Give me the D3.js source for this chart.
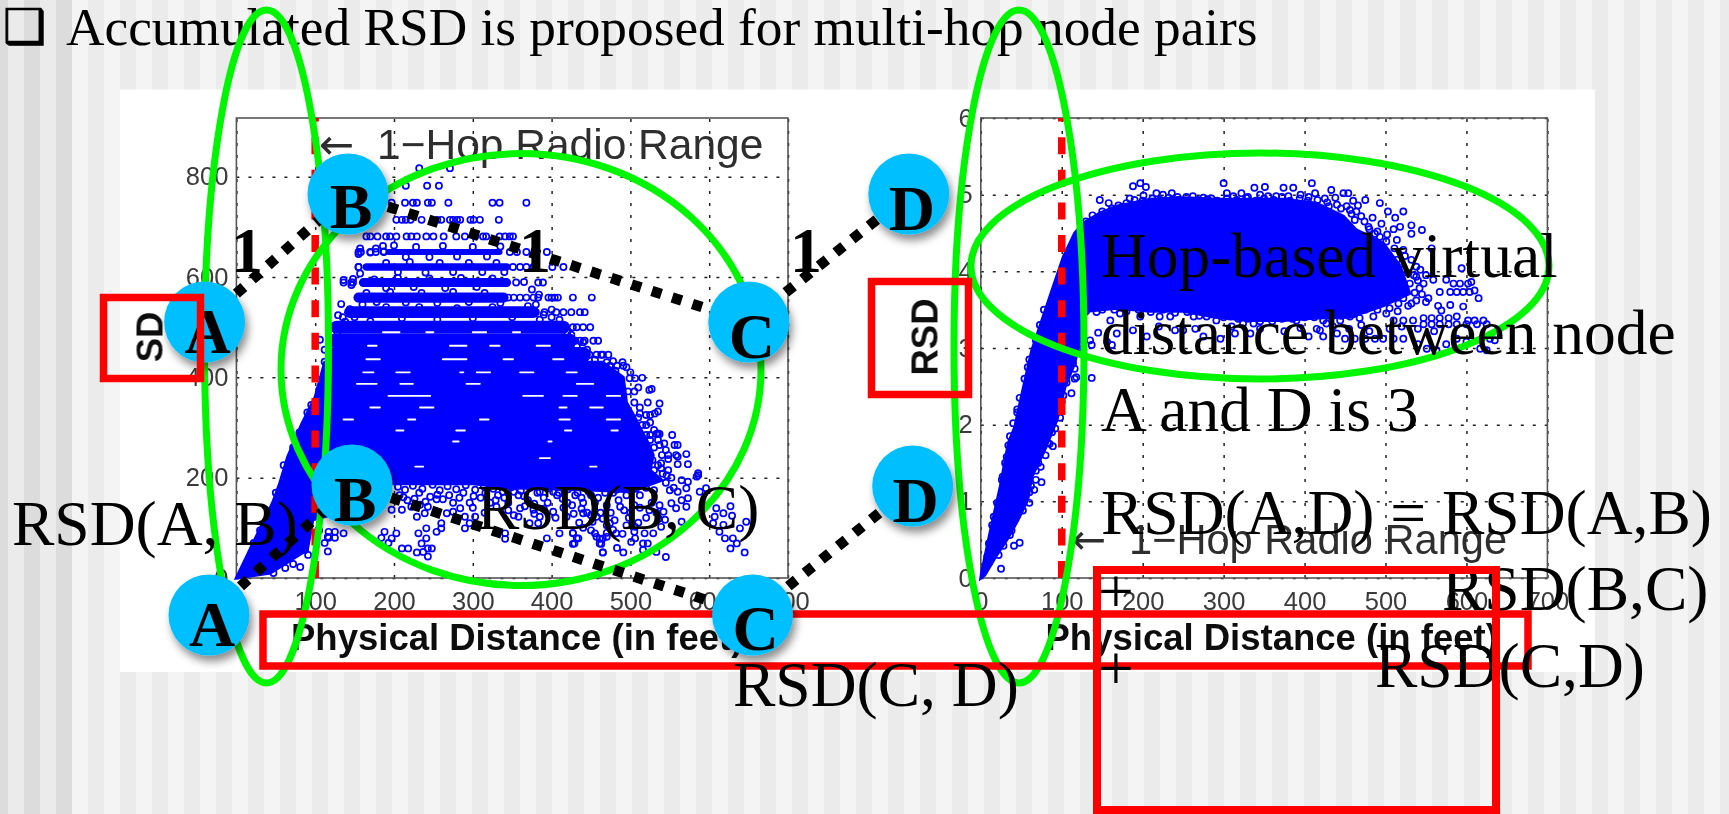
<!DOCTYPE html>
<html><head><meta charset="utf-8">
<style>html,body{margin:0;padding:0;background:#fff;overflow:hidden}svg{display:block}</style>
<script src="https://cdn.jsdelivr.net/npm/d3@7/dist/d3.min.js"></script></head>
<body><svg id="c" width="1729" height="814"></svg>
<script>
// ---------- chart values ----------
const leftXTicks=[0,100,200,300,400,500,600,700];
const leftYTicks=[0,200,400,600,800];
const rightXTicks=[0,100,200,300,400,500,600,700];
const rightYTicks=[0,1,2,3,4,5,6];
const radioRangeFeet=100;
// left plot: dense body of the SD cloud [feet, SD]
const leftBody=[[0,0],[17,56],[46,150],[55,189],[65,241],[83,307],[100,361],[112,430],[465,430],[491,400],[495,350],[503,328],[512,300],[524,265],[529,245],[525,215],[540,195],[500,172],[440,176],[345,180],[300,188],[190,188],[130,130],[97,116],[90,56],[43,10]];
// left plot: discrete SD rows
const rowSD=[650,620,589,559,530,500,473,445];
const rowFrom=[193,165,161,155,144,127,125,125];
const rowTo=[334,343,343,339,377,415,423,440];
// left plot: empty gaps inside the cloud [SD, from feet, to feet]
const leftGaps=[[490,186,207],[490,241,250],[490,300,317],[490,351,360],[463,167,178],[463,271,292],[463,322,334],[463,381,398],[436,262,292],[436,165,182],[436,339,351],[436,402,415],[410,161,174],[410,203,220],[410,284,288],[410,305,322],[410,360,377],[410,419,432],[387,432,453],[387,208,224],[387,292,309],[387,153,178],[363,193,246],[363,364,389],[363,415,432],[363,470,487],[340,233,250],[340,449,465],[340,410,419],[340,170,182],[316,136,148],[316,218,227],[316,309,320],[316,410,423],[316,470,487],[294,203,212],[294,417,425],[294,476,484],[294,279,290],[272,275,282],[272,396,400],[239,385,398],[222,227,237],[222,449,457]];
// left plot: individually readable points [feet, SD]
const leftPoints=[[232,817],[271,817],[215,782],[242,782],[257,782],[197,748],[214,748],[224,748],[229,748],[243,748],[248,748],[269,748],[325,748],[334,748],[368,748],
[203,714],[210,714],[215,714],[221,714],[235,714],[255,714],[260,714],[271,714],[275,714],[280,714],[284,714],[297,714],[301,714],[309,714],[333,714],
[165,681],[170,681],[179,681],[190,681],[195,681],[203,681],[216,681],[222,681],[229,681],[241,681],[250,681],[263,681],[279,681],[290,681],[303,681],[313,681],[317,681],[334,681],[341,681],[347,681],[351,681],
[155,650],[158,650],[170,650],[177,650],[187,650],[347,650],[356,650],[368,650],[394,650],[155,620],[351,620],[360,620],[368,620],[377,620],[401,620],[415,620],[136,589],[146,589],[148,589],[355,589],[383,589],[389,589],
[345,559],[352,559],[360,559],[368,559],[377,559],[383,559],[396,559],[400,559],[404,559],[408,559],[427,559],[451,559],[391,530],[406,530],[415,530],[425,530],[436,530],[442,530],[380,530],[427,500],[432,500],[440,500],[449,500],[418,500],[436,473],[442,473],[453,473],[459,473],[430,473],[457,445],[463,445],[472,445],[448,445],
[133,546],[129,524],[144,536],[136,594],[146,584],[148,596],[157,607],[155,620],[157,657],[155,646],[170,649],[177,657],[186,662],[187,651],[106,475],[112,455],[112,431],[138,511],[127,501],
[116,53],[136,89],[125,80],[117,80],[117,92],[125,92],[184,80],[188,92],[197,79],[193,70],[203,89],[210,59],[218,59],[229,51],[237,52],[243,59],[248,59],[243,43],[235,69],[241,79],[231,89],[241,99],[254,92],[260,109],[260,99],[254,157],[262,157],[267,129],[275,132],[284,139],[290,122],[290,99],[296,109],[303,122],[229,122],[239,129],[243,142],[233,146],[222,142],[210,136],[197,136],[341,89],[341,78],[358,122],[372,109],[383,109],[394,79],[410,89],[427,89],[434,79],[427,68],[455,89],[461,78],[463,68],[465,51],[470,82],[478,96],[360,139],[377,136],[385,122],[402,132],[419,122],[440,129],[457,122],[474,109],
[432,79],[429,69],[427,90],[457,82],[461,69],[465,79],[465,51],[483,60],[491,51],[482,89],[501,72],[506,79],[516,69],[522,69],[518,89],[529,89],[533,52],[545,42],[516,56],[506,102],[539,102],[544,116],[542,132],[552,149],[558,139],[571,142],[565,155],[573,159],[588,172],[584,202],[586,209],[573,192],[571,179],[560,172],[550,175],[537,145],[565,112],[596,179],[609,139],[607,122],[618,129],[627,143],[629,124],[605,109],[618,106],[613,92],[620,79],[630,79],[635,69],[627,59],[645,51],[639,99],[647,112],
[537,348],[522,350],[524,375],[527,377],[535,288],[533,287],[537,287],[553,285],[525,285],[556,265],[560,265],[537,265],[525,275],[548,245],[548,237],[558,245],[560,242],[571,247],[560,227],[573,227],[539,229],[539,219],[546,205],[586,205],[535,332],[531,328],[525,325],[520,325],[512,328],[520,305],[515,399],[506,398],[499,398],[491,423],[483,423],[481,413],[474,423],[497,372],[505,372],[505,350],
[443,180],[450,165],[455,150],[462,130],[470,145],[478,170],[485,155],[492,135],[498,120],[505,145],[512,165],[520,180],[527,150],[533,130],[520,120],[510,110],[495,105],[480,115],[470,105],[452,112],[445,130],[440,150],[435,110],[500,185],[488,195],[515,195],[530,175],[545,190],[555,180],[565,195],[440,100],[450,95],[470,90],[490,88],[505,92],
[207,165],[217,155],[232,170],[246,162],[270,165],[283,160],[296,150],[310,160],[322,150],[332,165],[345,150],[358,165],[370,155],[382,170],[395,150],[407,165],[420,150],[430,165],[116,82],[112,70],[105,95]];
const leftCloudEdge=[[205,182],[214,176],[224,184],[236,178],[249,186],[258,175],[268,183],[279,177],[291,185],[303,176],[314,183],[326,178],[338,172],[349,181],[361,174],[373,180],[385,172],[397,179],[409,170],[421,177],[433,170],
[212,161],[226,158],[240,152],[255,166],[275,150],[288,170],[301,163],[316,170],[329,155],[340,160],[352,172],[365,163],[378,148],[390,160],[402,172],[414,158],[426,145],[438,160],[447,172],[459,160],[468,170],[482,176],[495,165],[507,178],
[300,140],[315,130],[330,142],[345,135],[352,125],[366,143],[378,128],[390,138],[405,120],[415,140],[428,128],[438,138],[450,125],[465,118],[475,130],[487,142],[500,130],[512,140],[524,135],[536,118],
[498,215],[510,205],[520,210],[530,215],[541,208],[552,200],[548,215],[535,225],[528,235],[540,245],[545,255],[530,260],[520,260],[535,275],[543,268],[530,295],[520,285],[515,270],[512,340],[510,320],[525,310],[515,305],[500,410],[495,420],[510,380],[490,430],[478,432],[470,430],[465,445],[455,435],[445,455],[440,470],[432,462],[425,485],[420,490],[410,515],[400,520],[390,525],[380,545],[384,565],[375,575],[365,590],
[200,663],[215,640],[228,660],[245,640],[262,662],[280,641],[300,660],[318,641],[335,661],[190,628],[205,610],[220,630],[240,609],[258,628],[275,610],[295,628],[312,610],[330,628],[340,610],[175,595],[190,578],[205,598],[225,580],[245,597],[265,578],[285,598],[305,580],[325,597],[165,568],[178,550],[195,570],[215,549],[235,568],[255,548],[275,570],[295,550],[315,568],[335,548],[160,545],[150,520],[170,512],[190,540],[210,518],[232,540],[255,515],[280,538],[300,518],[325,540],[350,520],[370,542],[385,515],[400,535],
[135,520],[128,490],[122,470],[120,445],[118,425],[115,405],[108,395],[105,375],[95,345],[90,330],[80,290],[72,260],[60,225],[50,170],[40,130],[30,95],[22,70],[81,22],[91,46],[87,56],[47,10],[62,20],[72,28]];
// right plot: dense body of the RSD cloud [feet, RSD]
const rightBody=[[0,0],[1,.07],[13,.67],[24,1.19],[34,1.76],[42,1.97],[50,2.36],[63,2.97],[85,3.66],[102,4.19],[116,4.5],[127,4.63],[147,4.76],[168,4.85],[209,4.94],[250,4.96],[291,4.94],[333,4.94],[374,4.94],[415,4.89],[448,4.72],[464,4.54],[497,4.37],[518,4.07],[530,3.71],[497,3.55],[456,3.4],[415,3.39],[374,3.36],[333,3.36],[291,3.4],[250,3.48],[209,3.48],[168,3.52],[131,3.48],[116,2.80],[104,2.49],[94,2.06],[79,1.67],[63,1.32],[58,1.02],[46,.76],[34,.53],[18,.27],[5,.04]];
// right plot: individually readable points [feet, RSD]
const rightPoints=[[197,5.15],[188,5.11],[204,5.10],[147,4.93],[158,4.89],[170,4.86],[180,4.89],[184,4.95],[201,4.99],[217,5.02],[236,5.02],[254,4.97],[300,5.15],[304,5.02],[322,5.02],[338,5.09],[351,5.10],[355,4.98],[374,5.09],[386,5.09],[409,5.15],[413,5.02],[433,5.06],[448,5.02],[454,5.02],[466,4.86],[475,4.93],[493,4.89],[503,4.78],[512,4.70],[522,4.78],[518,4.58],[532,4.60],[545,4.54],[532,4.49],[557,4.30],[594,4.04],[606,3.86],[610,3.75],[615,3.65],[567,3.73],[553,3.65],[580,3.56],[596,3.54],[569,3.49],
[225,5.0],[243,4.97],[262,4.98],[275,4.96],[285,4.95],[312,4.98],[330,4.97],[345,5.0],[365,4.98],[380,4.98],[395,5.0],[405,4.97],[425,4.95],[438,4.96],[460,4.92],[430,4.85],[445,4.82],[458,4.75],[470,4.72],[484,4.70],[495,4.62],[510,4.55],
[538,3.93],[547,3.84],[559,3.89],[575,3.89],[584,3.84],[592,3.84],[602,3.84],[588,3.73],[596,3.73],[604,3.73],[580,3.73],[542,3.78],[530,3.84],[522,3.65],[516,3.58],[532,3.58],
[547,3.39],[557,3.39],[567,3.39],[578,3.39],[588,3.41],[602,3.36],[610,3.36],[621,3.36],[547,3.31],[557,3.31],[567,3.31],[578,3.31],[588,3.31],[600,3.31],[613,3.31],[625,3.31],[510,3.36],[522,3.36],[534,3.36],[501,3.45],[485,3.41],[468,3.39],[456,3.41],[444,3.36],[427,3.32],[415,3.25],[450,3.12],[462,3.12],[475,3.12],[487,3.12],[497,3.12],[510,3.12],[522,3.12],[551,2.99],[563,2.97],[588,3.12],[600,3.08],[629,3.12],[635,3.10],[625,2.97],[617,2.99],
[188,3.23],[240,3.23],[250,3.23],[296,3.12],[314,3.19],[333,3.19],[324,3.32],[337,3.32],[349,3.41],[361,3.41],[143,3.47],[160,3.36],[172,3.45],[168,3.19],[135,3.10],[137,3.04],[156,3.08],[162,3.04],[197,3.41],[221,3.41],[234,3.41],[263,3.41],[279,3.41],[291,3.36],[308,3.41],[390,3.36],[423,3.36],[419,3.23],[423,3.15],[440,3.19],[114,2.80],[106,2.86],[116,2.73],
[456,4.80],[462,4.67],[479,4.58],[487,4.49],[493,4.45],[501,4.39],[514,4.41],[522,4.28],[532,4.15],[538,4.06],[514,4.15],[522,4.02],[543,4.02],[550,3.95],[528,3.98],[510,3.95],[520,3.85],[536,3.72],[550,3.6],[565,3.55],
[25,.12],[41,.42],[48,.46],[36,.56],[66,1.15],[75,1.25],[71,1.5],[89,1.72],[83,1.76],[98,2.09],[112,2.41],[116,2.60],[45,2.16],[34,1.73],[32,1.58],[26,1.28],[14,.69],[56,2.44],[65,2.69],[137,2.61],[118,2.62],[60,1.12],[68,1.4],[88,1.9],[100,2.3],[108,2.7],[120,3.0],[125,3.2],[58,2.75],[78,3.3],[92,3.75],[108,4.25]];
const rightCloudEdge=[[130,4.65],[138,4.73],[150,4.78],[162,4.82],[175,4.84],[190,4.93],[200,4.92],[212,4.95],[222,4.93],[232,4.96],[244,4.93],[256,4.92],[268,4.93],[280,4.94],[292,4.92],[304,4.95],[316,4.93],[328,4.96],[340,4.92],[350,4.95],[362,4.93],[372,4.97],[382,4.92],[394,4.95],[404,4.92],[416,4.93],[428,4.90],[440,4.87],[452,4.85],[464,4.78],[474,4.65],[480,4.55],[490,4.52],[502,4.48],[511,4.30],[524,4.2],[535,3.95],[540,3.88],[545,3.7],[538,3.62],[528,3.55],
[130,3.48],[150,3.5],[165,3.5],[180,3.48],[195,3.5],[210,3.47],[225,3.5],[240,3.46],[255,3.47],[270,3.42],[285,3.44],[300,3.4],[318,3.38],[330,3.38],[345,3.35],[360,3.35],[372,3.38],[385,3.38],[400,3.4],[412,3.4],[430,3.42],[445,3.42],[460,3.44],[475,3.5],[490,3.5],[505,3.52],[515,3.48],
[145,3.2],[205,3.15],[220,3.28],[265,3.25],[275,3.15],[310,3.28],[345,3.25],[375,3.22],[395,3.26],[405,3.15],[435,3.28],[455,3.25],[470,3.3],[480,3.22],[505,3.25],[520,3.28],[540,3.25],[560,3.22],[575,3.05],[540,3.05],
[8,.28],[10,.45],[16,.8],[20,.98],[27,1.32],[30,1.5],[36,1.85],[40,2.02],[45,2.2],[48,2.35],[54,2.6],[60,2.85],[68,3.1],[73,3.3],[78,3.5],
[10,.2],[22,.3],[28,.42],[38,.62],[44,.82],[52,.88],[60,.98],[62,1.2],[68,1.28],[74,1.45],[80,1.6],[85,1.75],[92,1.95],[96,2.2],[102,2.38],[106,2.55],[110,2.85],[114,3.05],[120,3.2]];
// labels
const titleText="Accumulated RSD is proposed for multi-hop node pairs";
const xTitle="Physical Distance (in feet)";
const rangeText="1\u2212Hop Radio Range";
const stripeShades=["#dcdcdc","#ebebeb","#f4f4f4"];

// ---------- page ----------
const svg=d3.select("#c");
const W=1729,H=814;
const defs=svg.append("defs");
defs.append("filter").attr("id","soft").append("feGaussianBlur").attr("stdDeviation",0.45);
const sh=defs.append("filter").attr("id","shadow").attr("x","-30%").attr("y","-30%").attr("width","170%").attr("height","170%");
sh.append("feDropShadow").attr("dx",3).attr("dy",6).attr("stdDeviation",4).attr("flood-color","#000").attr("flood-opacity",.45);

// striped slide background
const stripes=d3.range(-8,W,16);
svg.append("g").selectAll("rect").data(stripes).join("rect")
 .attr("x",d=>d).attr("y",0).attr("width",16).attr("height",H)
 .attr("fill",(d,i)=> d<72 ? stripeShades[i%2===0?0:1] : stripeShades[i%2===1?2:1]);
svg.append("rect").attr("x",120).attr("y",89.5).attr("width",1475).attr("height",582.5).attr("fill","#fff");

function plot(cfg){
 const x=d3.scaleLinear().domain([0,700]).range(cfg.xr);
 const y=d3.scaleLinear().domain(cfg.yd).range([578,118]);
 const g=svg.append("g");
 const inner=g.append("g").attr("filter","url(#soft)");
 const gx=inner.append("g").attr("transform","translate(0,578)")
   .call(d3.axisBottom(x).tickValues(cfg.xt).tickFormat(d3.format("d")).tickSize(-460).tickPadding(14));
 const gy=inner.append("g").attr("transform",`translate(${cfg.xr[0]},0)`)
   .call(d3.axisLeft(y).tickValues(cfg.yt).tickFormat(d3.format("d")).tickSize(-(cfg.xr[1]-cfg.xr[0])).tickPadding(8));
 [gx,gy].forEach(a=>{
  a.select(".domain").remove();
  a.selectAll("line").attr("stroke","#222").attr("stroke-width",1.5).attr("stroke-dasharray","3 9");
  a.selectAll("text").attr("fill","#3a3a3a").attr("font-family","Liberation Sans").attr("font-size",25.5);
 });
 inner.append("rect").attr("x",cfg.xr[0]).attr("y",118).attr("width",cfg.xr[1]-cfg.xr[0]).attr("height",460)
  .attr("fill","none").attr("stroke","#555").attr("stroke-width",1.6);
 const area=d3.line().x(d=>x(d[0])).y(d=>y(d[1])).curve(d3.curveLinearClosed);
 inner.append("path").attr("d",area(cfg.body)).attr("fill","#0000ff").attr("stroke","#0000ff").attr("stroke-width",3);
 if(cfg.rows){
  const th=d3.scaleLinear().domain([445,650]).range([15.5,6]);
  inner.append("g").selectAll("line").data(cfg.rows).join("line")
   .attr("x1",d=>x(d.from)).attr("x2",d=>x(d.to)).attr("y1",d=>y(d.sd)).attr("y2",d=>y(d.sd))
   .attr("stroke","#0000ff").attr("stroke-linecap","round").attr("stroke-width",d=>th(d.sd));
  inner.append("g").selectAll("line").data(cfg.gaps).join("line")
   .attr("x1",d=>x(d[1])).attr("x2",d=>x(d[2])).attr("y1",d=>y(d[0])).attr("y2",d=>y(d[0]))
   .attr("stroke","#fff").attr("stroke-linecap","round").attr("stroke-width",1.9);
 }
 inner.append("g").selectAll("circle").data(cfg.pts).join("circle")
  .attr("cx",d=>x(d[0])).attr("cy",d=>y(d[1])).attr("r",3.1)
  .attr("fill","none").attr("stroke","#0000ff").attr("stroke-width",1.7);
 g.append("line").attr("x1",x(radioRangeFeet)).attr("x2",x(radioRangeFeet)).attr("y1",578).attr("y2",118)
  .attr("stroke","#ff0000").attr("stroke-width",7.5).attr("stroke-dasharray","17 15.6");
 inner.append("text").attr("x",cfg.rx).attr("y",cfg.ry).attr("font-family","DejaVu Sans").attr("font-size",42)
  .attr("fill","#2e2e2e").text("\u2190");
 inner.append("text").attr("x",cfg.rx+58).attr("y",cfg.ry).attr("font-family","Liberation Sans").attr("font-size",cfg.rs)
  .attr("fill","#2e2e2e").text(rangeText);
 inner.append("text").attr("x",cfg.tx).attr("y",650).attr("font-family","Liberation Sans").attr("font-weight","bold")
  .attr("font-size",36.5).attr("fill","#111").text(xTitle);
 inner.append("text").attr("transform",`translate(${cfg.lx},337) rotate(-90)`).attr("text-anchor","middle")
  .attr("font-family","Liberation Sans").attr("font-weight","bold").attr("font-size",36.5).attr("fill","#111").text(cfg.ylabel);
}
const rows=rowSD.map((sd,i)=>({sd,from:rowFrom[i],to:rowTo[i]}));
plot({xr:[236.4,788],yd:[0,917],xt:leftXTicks,yt:leftYTicks,body:leftBody,rows,gaps:leftGaps,pts:leftPoints.concat(leftCloudEdge),rx:319,ry:159,rs:42.5,tx:291,lx:162.5,ylabel:"SD"});
plot({xr:[980.8,1547.4],yd:[0,6],xt:rightXTicks,yt:rightYTicks,body:rightBody,pts:rightPoints.concat(rightCloudEdge),rx:1071,ry:554,rs:41.6,tx:1045.5,lx:937.5,ylabel:"RSD"});

// title
const serif="Liberation Serif";
svg.append("text").attr("x",3).attr("y",43).attr("font-family","DejaVu Sans").attr("font-size",48).attr("fill","#000").attr("stroke","#000").attr("stroke-width",.8).text("\u2751");
svg.append("text").attr("x",66).attr("y",45).attr("font-family",serif).attr("font-size",53.3).attr("fill","#000").text(titleText);

// green ellipses
const ell=[[266.5,346.5,62,336.5],[521,369.5,240,216],[1019,346.5,65,336.5],[1260,266,289,113]];
svg.append("g").selectAll("ellipse").data(ell).join("ellipse")
 .attr("cx",d=>d[0]).attr("cy",d=>d[1]).attr("rx",d=>d[2]).attr("ry",d=>d[3])
 .attr("fill","none").attr("stroke","#00f500").attr("stroke-width",7);

// node graphs
const upper=[["A",204.6,322,31],["B",348,194,34],["C",748.8,322,36],["D",908.8,194,36]];
const lower=[["A",209,615,31],["B",352,485,36],["C",752.6,615,35],["D",912.7,486,36]];
const linePath=d3.line().x(d=>d[1]).y(d=>d[2]);
[upper,lower].forEach(n=>svg.append("path").attr("d",linePath(n)).attr("fill","none").attr("stroke","#000")
 .attr("stroke-width",10.5).attr("stroke-dasharray","10 11.3"));
function rect(x,y,w,h,sw){svg.append("rect").attr("x",x).attr("y",y).attr("width",w).attr("height",h)
 .attr("fill","none").attr("stroke","#ff0000").attr("stroke-width",sw||7.5);}
rect(263,614,1265,52);
[upper,lower].forEach(n=>{
 const g=svg.append("g");
 g.selectAll("circle").data(n).join("circle").attr("cx",d=>d[1]).attr("cy",d=>d[2]).attr("r",40.5)
  .attr("fill","#00bfff").attr("filter","url(#shadow)");
 g.selectAll("text").data(n).join("text").attr("x",d=>d[1]+3).attr("y",d=>d[2]+d[3]).attr("text-anchor","middle")
  .attr("font-family",serif).attr("font-weight","bold").attr("font-size",64).attr("fill","#000").text(d=>d[0]);
});
const boldOnes=[[247,272],[535,272],[806,272]];
svg.append("g").selectAll("text").data(boldOnes).join("text").attr("x",d=>d[0]).attr("y",d=>d[1]).attr("text-anchor","middle")
 .attr("font-family",serif).attr("font-weight","bold").attr("font-size",64).attr("fill","#000").text("1");
const notes=[["RSD(A, B)",12,545],["RSD(B, C)",477,529],["RSD(C, D)",733,706],["Hop-based virtual",1101,277],["distance between node",1101,354],["A and D is 3",1101,431],["RSD(A,D) = RSD(A,B)",1101,534],["+",1098,613],["RSD(B,C)",1442,610],["+",1098,690],["RSD(C,D)",1375,687]];
svg.append("g").selectAll("text").data(notes).join("text").attr("x",d=>d[1]).attr("y",d=>d[2])
 .attr("font-family",serif).attr("font-size",63.5).attr("fill","#000").text(d=>d[0]);
rect(103.5,297.5,97,81);
rect(871.5,281.5,97,113);
rect(1097,570,399,240,8);
</script></body></html>
